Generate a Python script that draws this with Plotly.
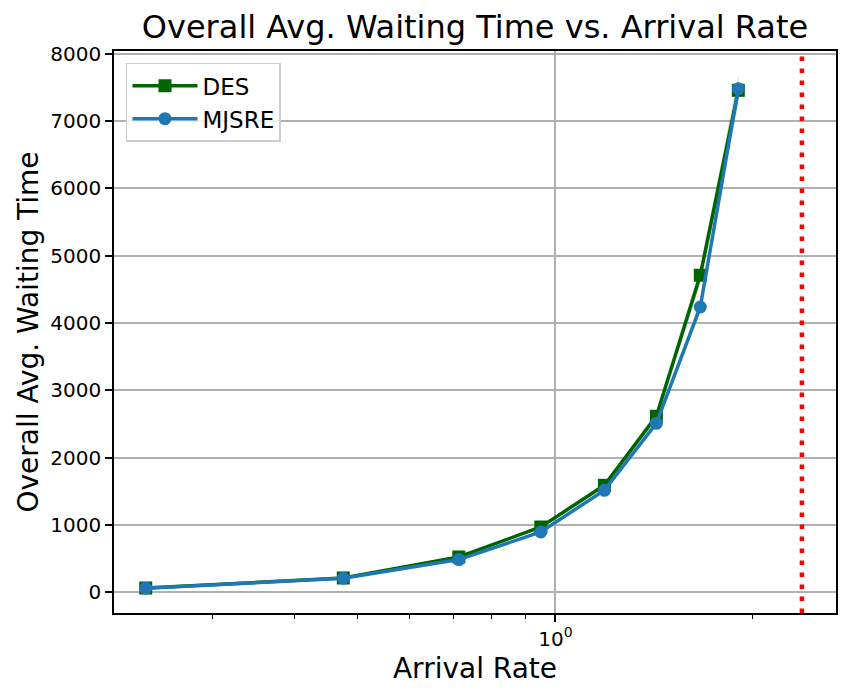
import plotly.graph_objects as go

arrival_rate = [0.2375, 0.475, 0.7125, 0.95, 1.1875, 1.425, 1.6625, 1.9]
des_wait = [65, 214, 526, 971, 1590, 2615, 4709, 7455]
des_ci = [4, 8, 14, 22, 38, 65, 120, 220]
mjsre_wait = [62, 210, 487, 897, 1516, 2511, 4238, 7480]
capacity_rate = 2.375

y_ticks = [0, 1000, 2000, 3000, 4000, 5000, 6000, 7000, 8000]
x_minor_ticks = [0.3, 0.4, 0.5, 0.6, 0.7, 0.8, 0.9, 2.0]

FONT = "DejaVu Sans"
W, H = 840, 691  # page body has an 8px default margin

fig = go.Figure()

upper = [v + c for v, c in zip(des_wait, des_ci)]
lower = [v - c for v, c in zip(des_wait, des_ci)]
fig.add_trace(go.Scatter(x=arrival_rate, y=upper, mode="lines",
                         line=dict(width=0, color="rgba(0,100,0,0)"),
                         showlegend=False, hoverinfo="skip"))
fig.add_trace(go.Scatter(x=arrival_rate, y=lower, mode="lines",
                         line=dict(width=0, color="rgba(0,100,0,0)"),
                         fill="tonexty", fillcolor="rgba(0,100,0,0.2)",
                         showlegend=False, hoverinfo="skip"))

fig.add_trace(go.Scatter(
    x=arrival_rate, y=des_wait, mode="lines+markers", name="DES",
    line=dict(color="#006400", width=3.5),
    marker=dict(symbol="square", size=13, color="#006400"),
))
fig.add_trace(go.Scatter(
    x=arrival_rate, y=mjsre_wait, mode="lines+markers", name="MJSRE",
    line=dict(color="#1f77b4", width=3.5),
    marker=dict(symbol="circle", size=13, color="#1f77b4"),
))

fig.add_shape(type="line", xref="x", yref="paper",
              x0=capacity_rate, x1=capacity_rate, y0=0, y1=1,
              line=dict(color="red", width=4.5, dash="4.5px,7.5px"))

fig.update_layout(
    width=W, height=H,
    margin=dict(l=106, r=12, t=43, b=86, autoexpand=False),
    paper_bgcolor="white", plot_bgcolor="white",
    font=dict(family=FONT, color="black"),
    title=dict(text="Overall Avg. Waiting Time vs. Arrival Rate",
               font=dict(size=32, family=FONT, color="black"),
               x=467 / W, xanchor="center",
               y=1 - 19 / H, yanchor="middle"),
    legend=dict(x=0.0166, y=0.979, xanchor="left", yanchor="top",
                traceorder="normal",
                bgcolor="rgba(255,255,255,0.8)", bordercolor="#cccccc",
                borderwidth=1.5, font=dict(size=23, family=FONT, color="black"),
                itemwidth=65),
    showlegend=True,
)

fig.update_xaxes(
    type="log", range=[-0.6727, 0.4276], automargin=False,
    tickmode="array", tickvals=[1], ticktext=["10<sup>0</sup>"],
    ticks="outside", ticklen=7, tickwidth=1.5, tickcolor="black",
    tickfont=dict(size=20, family=FONT, color="black"),
    showgrid=True, gridcolor="#b0b0b0", gridwidth=1.5,
    showline=True, linecolor="black", linewidth=1.5, mirror=True,
    zeroline=False,
    minor=dict(tickmode="array", tickvals=x_minor_ticks, ticks="outside",
               ticklen=4, tickwidth=1.2, tickcolor="black", showgrid=False),
    title=dict(text="Arrival Rate", font=dict(size=28, family=FONT, color="black"),
               standoff=9),
)

fig.update_yaxes(
    range=[-306, 8039], automargin=False,
    tickmode="array", tickvals=y_ticks, ticktext=[str(v) for v in y_ticks],
    ticks="outside", ticklen=7, tickwidth=1.5, tickcolor="black",
    tickfont=dict(size=20, family=FONT, color="black"),
    showgrid=True, gridcolor="#b0b0b0", gridwidth=1.5,
    showline=True, linecolor="black", linewidth=1.5, mirror=True,
    zeroline=False,
    title=dict(text="Overall Avg. Waiting Time",
               font=dict(size=28, family=FONT, color="black"), standoff=4),
)

fig.write_html("out.html")
